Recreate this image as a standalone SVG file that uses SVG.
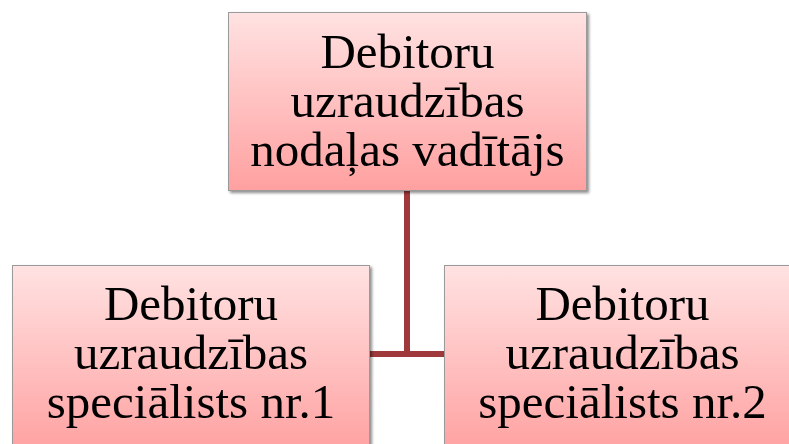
<svg xmlns="http://www.w3.org/2000/svg" width="789" height="444" viewBox="0 0 789 444">
<style>
.box{fill:url(#g);stroke:#9a9a9a;stroke-width:1;filter:url(#sh)}
.t{font-family:"Liberation Serif","Times New Roman",serif;font-size:49px;fill:#000;text-anchor:middle}
.c{stroke:#a0393c;stroke-width:6;fill:none}
</style>
<defs>
<linearGradient id="g" x1="0" y1="0" x2="0" y2="1">
<stop offset="0" stop-color="#ffe2e2"/>
<stop offset="1" stop-color="#ffa0a0"/>
</linearGradient>
<filter id="sh" x="-5%" y="-5%" width="115%" height="115%">
<feGaussianBlur in="SourceAlpha" stdDeviation="1.5"/>
<feOffset dx="2" dy="2" result="b"/>
<feComponentTransfer><feFuncA type="linear" slope="0.45"/></feComponentTransfer>
<feMerge><feMergeNode/><feMergeNode in="SourceGraphic"/></feMerge>
</filter>
</defs>
<g id="connectors">
<path class="c" d="M407 191 V354 M370 354 H444"/>
</g>
<g id="n-head">
<rect class="box" x="228.5" y="12.5" width="358" height="178"/>
<text class="t" x="407.5" y="68"><tspan x="407.5">Debitoru</tspan><tspan x="407.5" dy="49">uzraudzības</tspan><tspan x="407.5" dy="49">nodaļas vadītājs</tspan></text>
</g>
<g id="n-spec1">
<rect class="box" x="12.5" y="265.5" width="357" height="190"/>
<text class="t" x="191" y="320"><tspan x="191">Debitoru</tspan><tspan x="191" dy="49">uzraudzības</tspan><tspan x="191" dy="49">speciālists nr.1</tspan></text>
</g>
<g id="n-spec2">
<rect class="box" x="444.5" y="265.5" width="357" height="190"/>
<text class="t" x="622.5" y="320"><tspan x="622.5">Debitoru</tspan><tspan x="622.5" dy="49">uzraudzības</tspan><tspan x="622.5" dy="49">speciālists nr.2</tspan></text>
</g>
</svg>
